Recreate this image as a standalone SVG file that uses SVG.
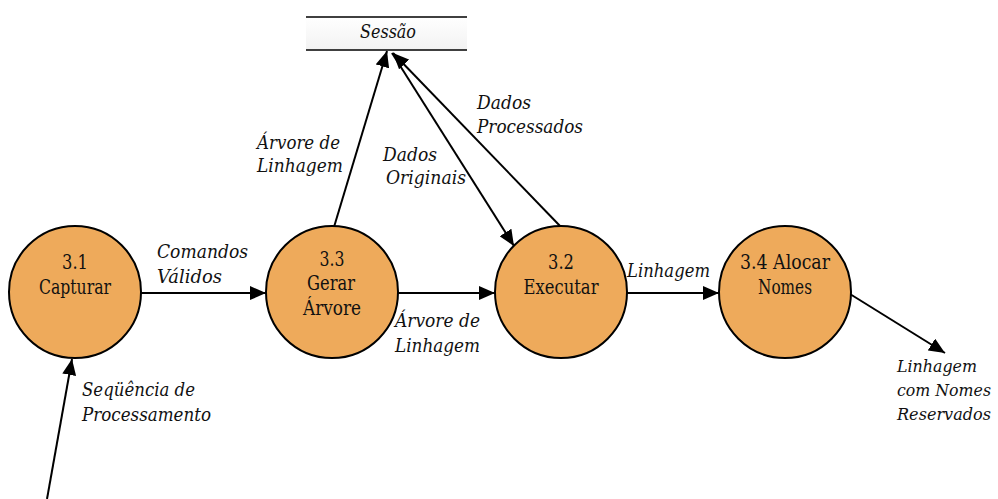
<svg xmlns="http://www.w3.org/2000/svg" width="998" height="499" viewBox="0 0 998 499">
<style>
.proc{fill:#EEAA5B;stroke:#000;stroke-width:2}
text{font-family:"DejaVu Serif","Liberation Serif",serif;fill:#111}
.nt{font-size:19.5px;text-anchor:middle}
.lb{font-size:18px;font-style:italic}
.rs{font-size:16.5px}
.ln{stroke:#000;stroke-width:2;fill:none;marker-end:url(#ah)}
</style>
<defs>
<marker id="ah" viewBox="0 0 16 14" refX="16" refY="7" markerWidth="16" markerHeight="14" markerUnits="userSpaceOnUse" orient="auto">
<path d="M0,0 L16,7 L0,14 Z" fill="#000"/>
</marker>
<linearGradient id="sg" x1="0" y1="0" x2="0" y2="1">
<stop offset="0" stop-color="#ffffff"/>
<stop offset="1" stop-color="#f2f2f2"/>
</linearGradient>
</defs>
<g id="store-sessao">
<rect x="306" y="17" width="161" height="33" fill="url(#sg)"/>
<line x1="306" y1="17" x2="467" y2="17" stroke="#000" stroke-width="1.5"/>
<line x1="306" y1="50" x2="467" y2="50" stroke="#000" stroke-width="1.5"/>
<text class="lb" x="360" y="38" textLength="56" lengthAdjust="spacingAndGlyphs">Sessão</text>
</g>
<g id="connectors">
<line class="ln" x1="141" y1="293" x2="266" y2="293"/>
<line class="ln" x1="397" y1="293" x2="495" y2="293"/>
<line class="ln" x1="626" y1="293" x2="719" y2="293"/>
<line class="ln" x1="850" y1="294" x2="945" y2="353"/>
<line class="ln" x1="47" y1="499" x2="72" y2="359"/>
<line class="ln" x1="334" y1="227" x2="387" y2="51"/>
<line class="ln" x1="392" y1="53" x2="514" y2="246"/>
<line class="ln" x1="561" y1="227" x2="393" y2="53"/>
</g>
<g id="labels">
<text class="lb" x="157" y="258" textLength="91" lengthAdjust="spacingAndGlyphs">Comandos</text>
<text class="lb" x="157" y="283" textLength="65" lengthAdjust="spacingAndGlyphs">Válidos</text>
<text class="lb" x="257" y="149" textLength="83" lengthAdjust="spacingAndGlyphs">Árvore de</text>
<text class="lb" x="257" y="172" textLength="86" lengthAdjust="spacingAndGlyphs">Linhagem</text>
<text class="lb" x="383" y="161" textLength="54" lengthAdjust="spacingAndGlyphs">Dados</text>
<text class="lb" x="386" y="184" textLength="80" lengthAdjust="spacingAndGlyphs">Originais</text>
<text class="lb" x="477" y="109" textLength="54" lengthAdjust="spacingAndGlyphs">Dados</text>
<text class="lb" x="477" y="133" textLength="106" lengthAdjust="spacingAndGlyphs">Processados</text>
<text class="lb" x="395" y="327" textLength="85" lengthAdjust="spacingAndGlyphs">Árvore de</text>
<text class="lb" x="395" y="352" textLength="85" lengthAdjust="spacingAndGlyphs">Linhagem</text>
<text class="lb" x="627" y="277" textLength="83" lengthAdjust="spacingAndGlyphs">Linhagem</text>
<text class="lb rs" x="897" y="372" textLength="80" lengthAdjust="spacingAndGlyphs">Linhagem</text>
<text class="lb rs" x="897" y="396" textLength="94" lengthAdjust="spacingAndGlyphs">com Nomes</text>
<text class="lb rs" x="897" y="420" textLength="94" lengthAdjust="spacingAndGlyphs">Reservados</text>
<text class="lb" x="82" y="396" textLength="113" lengthAdjust="spacingAndGlyphs">Seqüência de</text>
<text class="lb" x="82" y="421" textLength="129" lengthAdjust="spacingAndGlyphs">Processamento</text>
</g>
<g id="p31">
<circle class="proc" cx="75" cy="292" r="66"/>
<text class="nt" x="75" y="269" textLength="26" lengthAdjust="spacingAndGlyphs">3.1</text>
<text class="nt" x="75" y="294" textLength="72" lengthAdjust="spacingAndGlyphs">Capturar</text>
</g>
<g id="p33">
<circle class="proc" cx="332" cy="292" r="66"/>
<text class="nt" x="332" y="266" textLength="25" lengthAdjust="spacingAndGlyphs">3.3</text>
<text class="nt" x="331" y="290" textLength="48" lengthAdjust="spacingAndGlyphs">Gerar</text>
<text class="nt" x="332" y="315" textLength="58" lengthAdjust="spacingAndGlyphs">Árvore</text>
</g>
<g id="p32">
<circle class="proc" cx="561" cy="292" r="66"/>
<text class="nt" x="561" y="269" textLength="26" lengthAdjust="spacingAndGlyphs">3.2</text>
<text class="nt" x="561" y="294" textLength="75" lengthAdjust="spacingAndGlyphs">Executar</text>
</g>
<g id="p34">
<circle class="proc" cx="785" cy="292" r="66"/>
<text class="nt" x="785" y="269" textLength="90" lengthAdjust="spacingAndGlyphs">3.4 Alocar</text>
<text class="nt" x="785" y="294" textLength="54" lengthAdjust="spacingAndGlyphs">Nomes</text>
</g>
</svg>
